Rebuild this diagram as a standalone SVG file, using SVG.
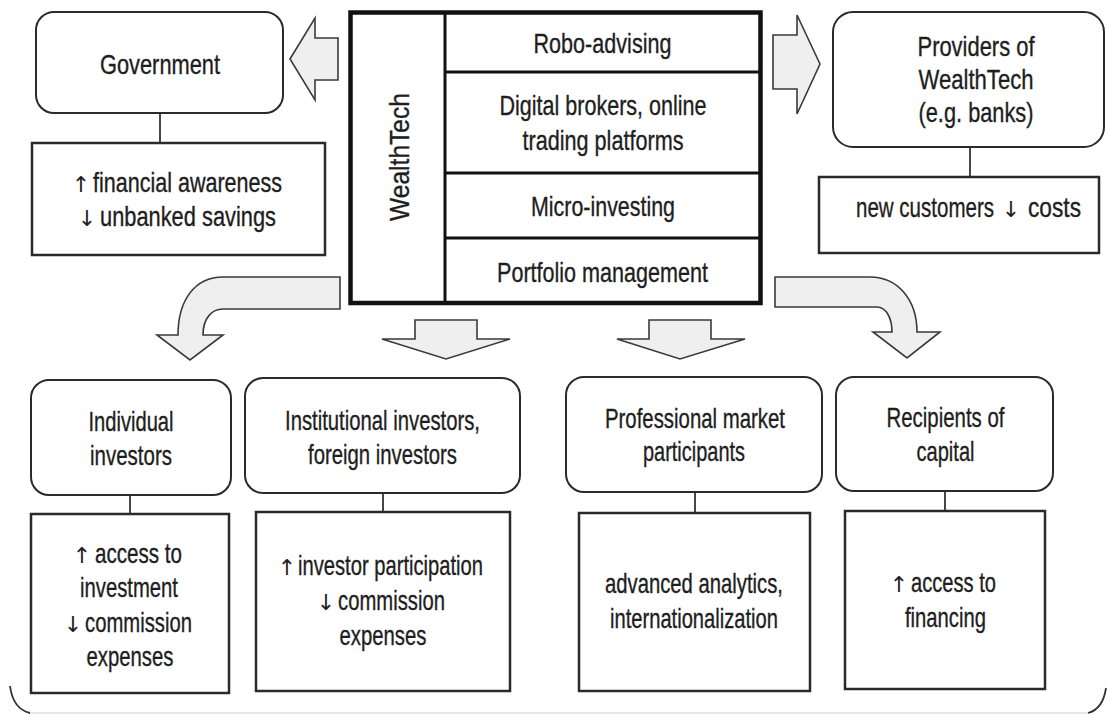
<svg xmlns="http://www.w3.org/2000/svg" width="1108" height="714" viewBox="0 0 1108 714">
<style>
text{font-family:"Liberation Sans","DejaVu Sans",sans-serif;font-size:28px;fill:#1e1e1e;stroke:#1e1e1e;stroke-width:0.35px;text-anchor:middle}
text.s{text-anchor:start}
text.g{font-family:"DejaVu Sans",sans-serif;font-size:22px;stroke:none}
.rb{fill:#fff;stroke:#2a2a2a;stroke-width:2}
.bx{fill:#fff;stroke:#2a2a2a;stroke-width:2.5}
.ln{stroke:#333;stroke-width:1.8;fill:none}
.ar{fill:#efefef;stroke:#3a3a3a;stroke-width:1.6;stroke-linejoin:miter}
.wt{fill:#fff;stroke:#111;stroke-width:4.5}
.dv{stroke:#111;stroke-width:3}
</style>
<rect width="1108" height="714" fill="#fff"/>
<g id="frame">
<path class="ln" d="M 10,686 Q 13,709 30,713"/>
<path class="ln" d="M 1106,688 Q 1103,709 1088,713"/>
<line x1="30" y1="713" x2="1088" y2="713" stroke="#d0d0d0" stroke-width="1.2"/>
</g>
<g id="connectors">
<line class="ln" x1="160" y1="113" x2="160" y2="143"/>
<line class="ln" x1="970" y1="147" x2="970" y2="177"/>
<line class="ln" x1="130" y1="495" x2="130" y2="514"/>
<line class="ln" x1="383" y1="493" x2="383" y2="512"/>
<line class="ln" x1="695" y1="492" x2="695" y2="513"/>
<line class="ln" x1="945" y1="491" x2="945" y2="511"/>
<path class="ar" d="M 290,59 L 315,18 L 315,38 L 338,38 L 338,80 L 315,80 L 315,100 Z"/>
<path class="ar" d="M 820,64 L 797,15 L 797,35 L 773,35 L 773,89 L 797,89 L 797,114 Z"/>
<path class="ar" d="M 340,277 L 223,277 C 195,277 178,300 178,335 L 157,335 L 190,360 L 223,335 L 203,335 C 203,318 212,309 223,309 L 340,309 Z"/>
<path class="ar" d="M 775,277 L 870,277 C 898,277 917,300 917,332 L 940,332 L 907,358 L 873,332 L 892,332 C 892,318 886,307 877,307 L 775,307 Z"/>
<path class="ar" d="M 415,320 L 477,320 L 477,339 L 510,339 L 446,359 L 382,339 L 415,339 Z"/>
<path class="ar" d="M 649,320 L 711,320 L 711,339 L 745,339 L 680,359 L 617,339 L 649,339 Z"/>
</g>
<g id="government">
<rect class="rb" x="36" y="12" width="247" height="101" rx="18"/>
<text x="160" y="74" textLength="120" lengthAdjust="spacingAndGlyphs">Government</text>
</g>
<g id="government-effects">
<rect class="bx" x="32" y="143" width="293" height="112"/>
<text class="g" x="81" y="192">↑</text>
<text class="s" x="93" y="192" textLength="189" lengthAdjust="spacingAndGlyphs">financial awareness</text>
<text class="g" x="87" y="226">↓</text>
<text class="s" x="100" y="226" textLength="176" lengthAdjust="spacingAndGlyphs">unbanked savings</text>
</g>
<g id="wealthtech">
<rect class="wt" x="350.5" y="12.5" width="410" height="290.5"/>
<line class="dv" x1="445" y1="12.5" x2="445" y2="303"/>
<line class="dv" x1="445" y1="72" x2="760.5" y2="72"/>
<line class="dv" x1="445" y1="173" x2="760.5" y2="173"/>
<line class="dv" x1="445" y1="238" x2="760.5" y2="238"/>
<text transform="translate(409,157) rotate(-90)" x="0" y="0" textLength="128" lengthAdjust="spacingAndGlyphs">WealthTech</text>
<text x="602.5" y="53" textLength="138" lengthAdjust="spacingAndGlyphs">Robo-advising</text>
<text x="603" y="115" textLength="207" lengthAdjust="spacingAndGlyphs">Digital brokers, online</text>
<text x="603" y="150" textLength="161" lengthAdjust="spacingAndGlyphs">trading platforms</text>
<text x="603" y="216" textLength="144" lengthAdjust="spacingAndGlyphs">Micro-investing</text>
<text x="602.5" y="282" textLength="211" lengthAdjust="spacingAndGlyphs">Portfolio management</text>
</g>
<g id="providers">
<rect class="rb" x="833" y="12" width="271" height="135" rx="20"/>
<text x="976" y="56" textLength="117" lengthAdjust="spacingAndGlyphs">Providers of</text>
<text x="976" y="89" textLength="115" lengthAdjust="spacingAndGlyphs">WealthTech</text>
<text x="976" y="122" textLength="115" lengthAdjust="spacingAndGlyphs">(e.g. banks)</text>
</g>
<g id="providers-effects">
<rect class="bx" x="819" y="177" width="280" height="76"/>
<text class="s" x="856" y="217" textLength="138" lengthAdjust="spacingAndGlyphs">new customers</text>
<text class="g" x="1011" y="217">↓</text>
<text class="s" x="1028" y="217" textLength="53" lengthAdjust="spacingAndGlyphs">costs</text>
</g>
<g id="individual">
<rect class="rb" x="31" y="380" width="200" height="115" rx="18"/>
<text x="131" y="431" textLength="85" lengthAdjust="spacingAndGlyphs">Individual</text>
<text x="131" y="465" textLength="82" lengthAdjust="spacingAndGlyphs">investors</text>
</g>
<g id="individual-effects">
<rect class="bx" x="31" y="514" width="198" height="179"/>
<text class="g" x="82" y="563">↑</text>
<text class="s" x="95" y="563" textLength="87" lengthAdjust="spacingAndGlyphs">access to</text>
<text x="129" y="597" textLength="98" lengthAdjust="spacingAndGlyphs">investment</text>
<text class="g" x="73" y="632">↓</text>
<text class="s" x="85" y="632" textLength="107" lengthAdjust="spacingAndGlyphs">commission</text>
<text x="130" y="666" textLength="87" lengthAdjust="spacingAndGlyphs">expenses</text>
</g>
<g id="institutional">
<rect class="rb" x="245" y="378" width="275" height="115" rx="18"/>
<text x="382.5" y="430" textLength="195" lengthAdjust="spacingAndGlyphs">Institutional investors,</text>
<text x="382.5" y="464" textLength="149" lengthAdjust="spacingAndGlyphs">foreign investors</text>
</g>
<g id="institutional-effects">
<rect class="bx" x="256" y="512" width="254" height="179"/>
<text class="g" x="287" y="575">↑</text>
<text class="s" x="298" y="575" textLength="185" lengthAdjust="spacingAndGlyphs">investor participation</text>
<text class="g" x="326" y="610">↓</text>
<text class="s" x="338" y="610" textLength="107" lengthAdjust="spacingAndGlyphs">commission</text>
<text x="383" y="645" textLength="87" lengthAdjust="spacingAndGlyphs">expenses</text>
</g>
<g id="professional">
<rect class="rb" x="566" y="377" width="256" height="115" rx="18"/>
<text x="695" y="428" textLength="180" lengthAdjust="spacingAndGlyphs">Professional market</text>
<text x="694" y="461" textLength="102" lengthAdjust="spacingAndGlyphs">participants</text>
</g>
<g id="professional-effects">
<rect class="bx" x="579" y="513" width="231" height="178"/>
<text x="694" y="593" textLength="178" lengthAdjust="spacingAndGlyphs">advanced analytics,</text>
<text x="694" y="628" textLength="168" lengthAdjust="spacingAndGlyphs">internationalization</text>
</g>
<g id="recipients">
<rect class="rb" x="836" y="377" width="217" height="114" rx="18"/>
<text x="945.5" y="427" textLength="118" lengthAdjust="spacingAndGlyphs">Recipients of</text>
<text x="945.5" y="461" textLength="58" lengthAdjust="spacingAndGlyphs">capital</text>
</g>
<g id="recipients-effects">
<rect class="bx" x="845" y="511" width="200" height="178"/>
<text class="g" x="899" y="592">↑</text>
<text class="s" x="911" y="592" textLength="85" lengthAdjust="spacingAndGlyphs">access to</text>
<text x="945.5" y="627" textLength="81" lengthAdjust="spacingAndGlyphs">financing</text>
</g>
</svg>
